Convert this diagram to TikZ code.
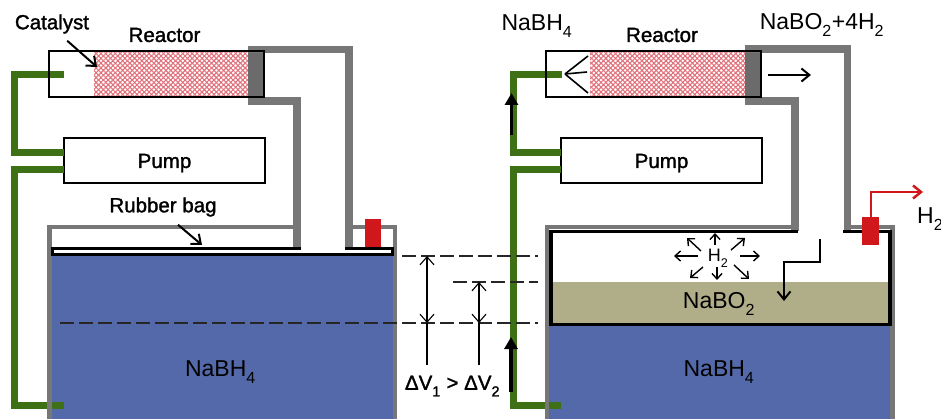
\documentclass[tikz,border=0pt]{standalone}
\usepackage{fontspec}
\setmainfont{Liberation Sans}
\newfontfamily\heavyfont[FakeBold=1.5]{Liberation Sans}
\usepackage{xcolor}
\usepackage{tikz}
\usetikzlibrary{arrows.meta, positioning, patterns.meta}

\definecolor{feedgreen}{HTML}{3E7016}
\definecolor{tubegrey}{HTML}{777777}
\definecolor{plugred}{HTML}{D0181C}
\definecolor{fuelblue}{HTML}{5469AA}
\definecolor{wasteolive}{HTML}{AFAE88}
\definecolor{hatchpink}{HTML}{E2707A}
\newcommand{\chemsub}[1]{\raisebox{-0.32ex}{\textsubscript{#1}}}

\begin{document}
\begin{tikzpicture}[
  x=1pt, y=-1pt,
  vessel/.style={draw, line width=2.7pt, minimum width=215pt, minimum height=46pt, outer sep=0pt},
  pumpbox/.style={draw, line width=2.7pt, minimum width=201pt, minimum height=45pt, outer sep=0pt, heavy, text height=15pt, text depth=0pt},
  heavy/.style={font=\heavyfont\fontsize{20.5}{24}\selectfont, inner sep=0pt},
  species/.style={font=\fontsize{23}{27}\selectfont, inner sep=0pt},
  feed/.style={feedgreen, line width=7pt, miter limit=10},
  tube/.style={tubegrey, line width=7.5pt},
  wall/.style={tubegrey, line width=4.5pt},
  lining/.style={line width=3.5pt},
  catalyst/.style={preaction={pattern={Lines[angle=45, distance=3.4pt, line width=1.1pt]}, pattern color=hatchpink},
    pattern={Lines[angle=-45, distance=3.4pt, line width=1.1pt]}, pattern color=hatchpink},
  barb/.style={-{Straight Barb[length=8pt, width=13pt]}, line width=2pt},
  flowarrow/.style={-{Triangle[length=12pt, width=13pt]}, line width=3.5pt},
  level/.style={dash pattern=on 14pt off 5pt, line width=1.2pt, black!85},
  delta/.style={{Straight Barb[length=8pt, width=14pt]}-{Straight Barb[length=8pt, width=14pt]}, line width=1.1pt}
]
\useasboundingbox (0,0) rectangle (941,419);

% liquids
\fill[fuelblue] (50,255) rectangle (394,419);
\fill[fuelblue] (547,325) rectangle (892,419);
\fill[wasteolive] (552,282) rectangle (888,324);

% catalyst beds
\fill[catalyst] (94,52) rectangle (248,96);
\fill[catalyst] (590,52) rectangle (746,96);

% left unit
\node[vessel] (reactorL) at (156.5,74) {};
\node[pumpbox] (pumpL) at (164.5,160.5) {Pump};
\coordinate (feedL) at (64,75);
\coordinate (pumpOutL) at (64,153);
\coordinate (pumpInL) at (64,170);
\coordinate (suctionL) at (64,405);
\coordinate (tubeTopL) at (248,49.5);
\coordinate (tubeLowL) at (248,101);
\coordinate (bagTopA) at (297,248);
\coordinate (bagTopB) at (349,248);

\fill[tubegrey!90!black] (248,46) rectangle (264,105);
\draw[tube] (tubeTopL) -- (349,49.5) -- (bagTopB);
\draw[tube] (tubeLowL) -- (297,101) -- (bagTopA);
\draw[feed] (feedL) -- (14.5,75) -- (14.5,153) -- (pumpOutL);
\draw[feed] (pumpInL) -- (14.5,170) -- (14.5,405) -- (suctionL);
\draw[wall] (49.5,419) -- (49.5,227) -- (293,227);
\draw[wall] (353,227) -- (395,227) -- (395,419);
\fill[plugred] (365,219) rectangle (381,247);

% rubber bag
\draw[lining] (52.5,254.5) -- (52.5,248.5) -- (301,248.5);
\draw[lining] (345,248.5) -- (392.5,248.5) -- (392.5,254.5);
\draw[lining] (51,254.5) -- (394,254.5);
\node[vessel] at (reactorL) {};

% right unit
\node[vessel, right=282pt of reactorL] (reactorR) {};
\node[pumpbox, right=296pt of pumpL] (pumpR) {Pump};
\coordinate (feedR) at (562,75);
\coordinate (pumpOutR) at (561,153);
\coordinate (pumpInR) at (561,170);
\coordinate (suctionR) at (561,405);
\coordinate (tubeTopR) at (745,49);
\coordinate (tubeLowR) at (745,101);
\coordinate (ventA) at (795,231);
\coordinate (ventB) at (847.5,231);

\fill[tubegrey!90!black] (745,45) rectangle (762,105);
\draw[tube] (tubeTopR) -- (847.5,49) -- (ventB);
\draw[tube] (tubeLowR) -- (795,101) -- (ventA);
\draw[feed] (feedR) -- (513,75) -- (513,153) -- (pumpOutR);
\draw[feed] (pumpInR) -- (513,170) -- (513,405) -- (suctionR);
\draw[wall] (547,419) -- (547,227) -- (791,227);
\draw[wall] (851,227) -- (892.5,227) -- (892.5,419);
\draw[lining] (798,231.5) -- (551,231.5) -- (551,324.5) -- (890,324.5) -- (890,231.5) -- (843,231.5);
\node[vessel] at (reactorR) {};

% vent
\fill[plugred] (862,217) rectangle (879,245);
\coordinate (ventTip) at (923,192);
\draw[plugred, line width=2.5pt, -{Straight Barb[length=8pt, width=13pt]}] (871,217) -- (871,192) -- (ventTip);

% spray nozzle
\coordinate (nozzle) at (565,74);
\draw[line width=1.6pt] (nozzle) -- (588,56);
\draw[line width=1.6pt] (nozzle) -- (587,72);
\draw[line width=1.6pt] (nozzle) -- (588,93);

% flow arrows
\draw[flowarrow] (511.5,135) -- (511.5,93);
\draw[flowarrow] (511,392) -- (511,337);
\draw[barb] (768,75) -- (811,75);
\draw[barb] (820,239) -- (820,262) -- (784,262) -- (784,301);

% hydrogen burst
\node[font=\fontsize{18}{20}\selectfont, inner sep=0pt] (burst) at (718,258) {H\chemsub{2}};
\foreach \sx/\sy/\ex/\ey in {715/245/715/233, 701/251/687/238, 731/250/745/238, 698/256/674/256,
  740/256/760/256, 703/267/690/278, 717/267/717/280, 734/265/749/279}
  \draw[-{Straight Barb[length=5.5pt, width=10pt]}, line width=1.4pt] (\sx,\sy) -- (\ex,\ey);

% levels
\draw[level] (402,256) -- (538,256);
\draw[level] (453,282) -- (538,282);
\draw[level] (60,323) -- (538,323);
\coordinate (levelA) at (427,256);
\coordinate (levelB) at (479,282);
\draw[delta] (levelA) -- (427,323);
\draw[delta] (levelB) -- (479,323);
\draw[line width=1.1pt] (427,323) -- (427,365);
\draw[line width=1.1pt] (479,323) -- (479,365);

% labels
\node[heavy] (catalystlabel) at (52,24) {Catalyst};
\node[heavy] (reactorlabelL) at (164.5,35) {Reactor};
\node[heavy] (baglabel) at (163,207) {Rubber bag};
\node[heavy] (reactorlabelR) at (662,35) {Reactor};
\node[species] (fuelL) at (220.5,372) {NaBH\chemsub{4}};
\node[species] (fuelR) at (719,372) {NaBH\chemsub{4}};
\node[species] (waste) at (719,304) {NaBO\chemsub{2}};
\node[species] (inlet) at (537,26) {NaBH\chemsub{4}};
\node[species] (outlet) at (822,25) {NaBO\chemsub{2}+4H\chemsub{2}};
\node[species, anchor=west] (hydrogen) at (917,219) {H\chemsub{2}};
\node[heavy] (deltalabel) at (452.5,386) {ΔV\chemsub{1} > ΔV\chemsub{2}};

\draw[-{Straight Barb[length=8pt, width=13pt]}, line width=2pt] (catalystlabel.south east) ++(-22,7) -- (97,67);
\draw[-{Straight Barb[length=8pt, width=13pt]}, line width=2pt] (baglabel.south) ++(15,8) -- (202,245);
\end{tikzpicture}
\end{document}
